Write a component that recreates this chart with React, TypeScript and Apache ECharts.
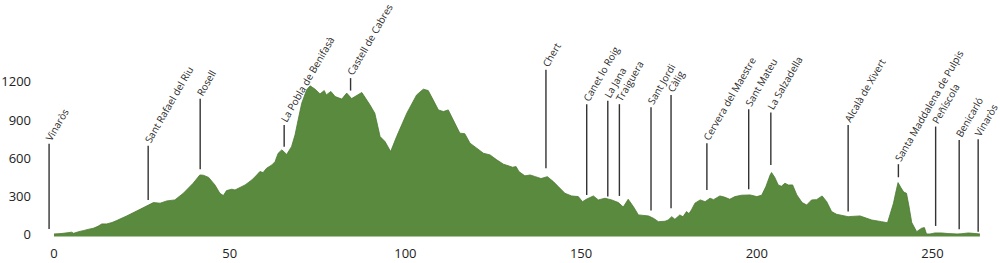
import React, { useEffect, useRef } from "react";
import * as echarts from "echarts";

// Elevation profile: distance (km) and altitude (m)
const KM = [
  0, 2, 4, 5, 5.6, 7, 8.3, 10, 11.2, 12.5, 13.6, 15, 16.5, 17.8, 20.7, 24.5, 28.3, 30.2, 32.1, 34.4,
  36.8, 39.6, 41.5, 42.5, 44, 45.8, 47.2, 48.2, 49.1, 50.6, 51.5, 54.4, 56.3, 57.7, 58.6, 59.5,
  60.5, 62, 62.9, 63.8, 64.8, 65.4, 66.2, 67.6, 68.6, 69.5, 70.5, 71.9, 72.9, 74.3, 75.7, 76.9,
  77.5, 78.8, 80, 81.9, 83.3, 84.7, 87.6, 89.9, 91.3, 92.8, 94.2, 95.8, 97.5, 100.4, 103.2, 105.1,
  106.5, 107.9, 109.4, 110.8, 112.2, 113.6, 115.5, 116.9, 118.4, 120.3, 122.2, 124.1, 126, 127.9,
  130.5, 131.5, 132.3, 134, 135.5, 137, 138.6, 140.4, 142.1, 143.5, 145.4, 147.3, 149.2, 150.4,
  151.5, 153.5, 154.9, 156.8, 158.7, 160.6, 162, 163.4, 164.9, 166.3, 169.2, 170.6, 172, 173.9,
  174.8, 175.8, 176.7, 178.1, 179, 180, 180.7, 181.4, 182.4, 183.9, 185.3, 186.7, 187.7, 189.5,
  190.8, 192.3, 193.8, 195.7, 198.1, 200, 201.4, 202.6, 203.8, 204.2, 205.1, 206.1, 207, 208, 209,
  210.2, 211.4, 212.9, 214.2, 215.6, 217, 218.6, 219.9, 221.3, 222.7, 226, 229.4, 231.3, 232.7,
  235.5, 237.2, 238.9, 239.5, 240.2, 241, 241.8, 242.6, 243.3, 244.1, 245.5, 246.9, 247.7, 248.3,
  249.3, 250.7, 252.6, 254.5, 257, 258.3, 260.2, 261.5, 263.5,
];
const ELEV = [
  0, 3, 10, 14, 5, 18, 26, 38, 45, 60, 79, 79, 90, 105, 142, 194, 247, 242, 260, 268,
  320, 399, 464, 462, 445, 386, 320, 302, 341, 352, 346, 386, 425, 464, 491, 483,
  517, 543, 569, 635, 661, 648, 625, 687, 780, 900, 1029, 1134, 1165, 1139, 1102, 1128,
  1094, 1121, 1081, 1061, 1108, 1065, 1113, 1016, 950, 766, 727, 648, 766, 950, 1094, 1139,
  1128, 1055, 976, 963, 976, 898, 793, 789, 714, 675, 635, 622, 583, 549,
  525, 530, 491, 457, 464, 451, 436, 451, 412, 373, 320, 299, 294, 254,
  273, 299, 268, 281, 268, 247, 212, 273, 215, 150, 142, 123, 97, 100,
  110, 136, 115, 150, 135, 176, 160, 189, 242, 268, 254, 281, 270, 299,
  290, 273, 294, 305, 307, 294, 305, 373, 464, 483, 446, 386, 375, 399, 385,
  386, 307, 247, 228, 268, 270, 299, 254, 176, 155, 136, 142, 123, 110,
  97, 88, 242, 320, 404, 365, 330, 320, 220, 90, 18, 45, 50, 0,
  0, 8, 8, 3, 0, 2, 8, 5, 0,
];

// Towns along the route: name, distance, label height, line foot height
const TOWNS = [
  "Vinaròs", "Sant Rafael del Riu", "Rosell", "La Pobla de Benifasà", "Castell de Cabres",
  "Chert", "Canet lo Roig", "La Jana", "Traiguera", "Sant Jordi", "Càlig",
  "Cervera del Maestre", "Sant Mateu", "La Salzadella", "Alcalà de Xivert",
  "Santa Maddalena de Pulpis", "Peñíscola", "Benicarló", "Vinaròs",
];
const TOWN_KM = [
  -1.4, 26.8, 41.6, 65.5, 84.4, 140, 151.6, 157.6, 160.9, 169.9, 175.6,
  185.8, 197.7, 204, 226, 240.3, 250.9, 257.6, 263,
];
const TOWN_TOP = [
  709, 693, 1063, 858, 1226, 1291, 1021, 1047, 1021, 997, 1094,
  714, 982, 955, 858, 549, 845, 740, 746,
];
const TOWN_BASE = [
  39, 268, 509, 687, 1128, 517, 307, 294, 299, 184, 202,
  346, 352, 543, 176, 446, 63, 37, 18,
];

const Y_TICKS = [0, 300, 600, 900, 1200];

export default function App() {
  const ref = useRef<HTMLDivElement>(null);

  useEffect(() => {
    if (!ref.current) return;
    const chart = echarts.init(ref.current, null, { renderer: "svg" });
    const profile = KM.map((k, i) => [k, ELEV[i]]);
    const towns = TOWNS.map((n, i) => [TOWN_KM[i], TOWN_TOP[i], TOWN_BASE[i], n]);

    chart.setOption({
      animation: false,
      grid: {
        left: 54,
        right: 11.3,
        top: 56,
        bottom: 26.5,
        containLabel: false,
        outerBoundsMode: "none",
      },
      xAxis: {
        type: "value",
        min: 0,
        max: 266,
        interval: 50,
        axisLine: { show: false },
        axisTick: { show: false },
        splitLine: { show: false },
        axisLabel: {
          showMaxLabel: false,
          margin: 10,
          color: "#222",
          fontFamily: "Open Sans",
          fontSize: 13,
          formatter: (v: number) => String(v),
        },
      },
      yAxis: {
        type: "value",
        min: -20,
        max: 1400,
        axisLine: { show: false },
        axisTick: { show: false },
        splitLine: { show: false },
        axisLabel: {
          customValues: Y_TICKS,
          margin: 23,
          color: "#222",
          fontFamily: "Open Sans",
          fontSize: 13,
          formatter: (v: number) => String(v),
        },
      },
      series: [
        {
          type: "line",
          data: profile,
          showSymbol: false,
          smooth: false,
          lineStyle: { color: "#4c7a33", width: 0.8 },
          areaStyle: { color: "#5a8a3d", opacity: 1, origin: "start" },
          silent: true,
          z: 2,
        },
        {
          type: "custom",
          data: towns,
          clip: false,
          z: 3,
          renderItem: (params: any, api: any) => {
            const top = api.coord([api.value(0), api.value(1)]);
            const base = api.coord([api.value(0), api.value(2)]);
            const name = TOWNS[params.dataIndex];
            return {
              type: "group",
              children: [
                {
                  type: "line",
                  shape: { x1: top[0], y1: top[1], x2: base[0], y2: base[1] },
                  style: { stroke: "#333", lineWidth: 1.4 },
                },
                {
                  type: "text",
                  x: top[0] - 1,
                  y: top[1] - 4,
                  rotation: Math.PI / 3,
                  style: {
                    text: name,
                    align: "left",
                    verticalAlign: "middle",
                    fill: "#2a2a2a",
                    font: "10px 'Open Sans'",
                  },
                },
              ],
            };
          },
        },
      ],
    });
    return () => chart.dispose();
  }, []);

  return (
    <div
      ref={ref}
      style={{ position: "absolute", left: 0, top: 0, width: 1000, height: 263 }}
    />
  );
}
